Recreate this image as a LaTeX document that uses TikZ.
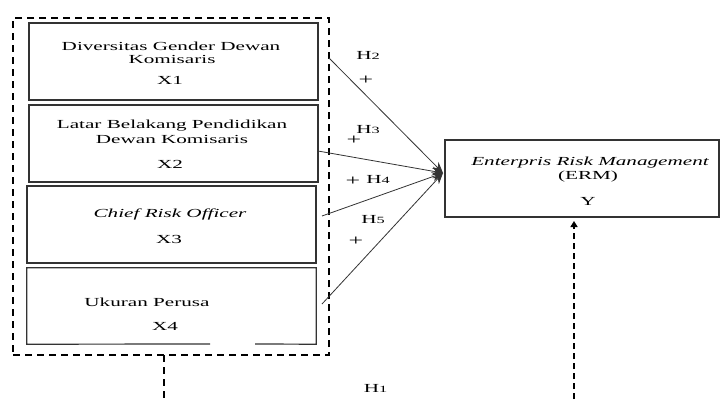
\documentclass[tikz,border=0pt]{standalone}
\usepackage{fontspec}
\setmainfont[FakeStretch=1.72]{Liberation Serif}
\usetikzlibrary{arrows.meta}
\newcommand\hypsub[1]{{\fontsize{9.5}{9.5}\selectfont #1}}
\begin{document}
\begin{tikzpicture}[x=1pt,y=-1pt,
  txt/.style={font=\fontsize{12.3}{14}\selectfont, inner sep=0pt, anchor=base},
  plus/.style={font=\fontsize{15}{16}\selectfont, inner sep=0pt, anchor=center},
  varbox/.style={draw=black!80, line width=1.2pt, inner sep=0pt},
  grpbox/.style={draw=black, line width=2.6pt, dash pattern=on 7pt off 5pt, inner sep=0pt},
  conn/.style={draw=black!80, line width=0.8pt, -{Stealth[length=11pt,width=9pt]}},
  thickdash/.style={draw=black, line width=2.5pt, dash pattern=on 7pt off 5pt},
  uparrow/.style={draw=black, line width=2.5pt, dash pattern=on 6pt off 4pt, -{Triangle[length=6pt,width=7pt]}}]
\useasboundingbox (0,0) rectangle (722,399);
\fill[white] (0,0) rectangle (722,399);

% group box
\node[grpbox, minimum width=316pt, minimum height=337pt] (grp) at (171,186.5) {};

% variable boxes
\node[varbox, minimum width=289pt, minimum height=77pt] (b1) at (173.5,61.5) {};
\node[varbox, minimum width=289pt, minimum height=77pt] (b2) at (173.5,143.5) {};
\node[varbox, minimum width=289pt, minimum height=77pt] (b3) at (171.5,224.5) {};
\node[inner sep=0pt, minimum width=289pt, minimum height=76pt] (b4) at (171.5,306) {};
\draw[draw=black!80, line width=1.2pt] (210,344) -- (b4.south west) -- (b4.north west) -- (b4.north east) -- (b4.south east) -- (255,344);

% texts in boxes
\node[txt] (t1a) at (171,50) {Diversitas Gender Dewan};
\node[txt] (t1b) at (172,63) {Komisaris};
\node[txt] (t1c) at (170,84) {X1};
\node[txt] (t2a) at (172,128) {Latar Belakang Pendidikan};
\node[txt] (t2b) at (172,143) {Dewan Komisaris};
\node[txt] (t2c) at (170,168) {X2};
\node[txt] (t3a) at (170,217) {\itshape Chief Risk Officer};
\node[txt] (t3b) at (169,243) {X3};
\node[txt] (t4a) at (147,306) {Ukuran Perusa};
\node[txt] (t4b) at (165,330) {X4};

% ERM box
\node[varbox, minimum width=274pt, minimum height=77pt] (erm) at (582,178.5) {};
\node[txt] (ea) at (590,165) {\itshape Enterpris Risk Management};
\node[txt] (eb) at (588,179) {(ERM)};
\node[txt] (ec) at (588,205) {Y};

% connectors
\coordinate (s1) at (329,58);
\coordinate (s2) at (318,151);
\coordinate (s3) at (322,216);
\coordinate (s4) at (322,304);
\coordinate (tip) at (443,173);
\draw[conn] (s1) -- (tip);
\draw[conn] (s2) -- (tip);
\draw[conn] (s3) -- (tip);
\draw[conn] (s4) -- (tip);

% labels
\node[txt] (h2) at (368,59) {H\hypsub{2}};
\node[plus] (p2) at (366,80) {+};
\node[txt] (h3) at (368,133) {H\hypsub{3}};
\node[plus] (p3) at (354,140) {+};
\node[plus] (p4) at (353,181) {+};
\node[txt] (h4) at (378,183) {H\hypsub{4}};
\node[txt] (h5) at (373,223) {H\hypsub{5}};
\node[plus] (p5) at (356,241) {+};
\node[txt] (h1) at (375.5,392) {H\hypsub{1}};

% H1 dashed lines
\coordinate (d1) at (164,355);
\coordinate (d1e) at (164,399);
\draw[thickdash] (d1) -- (d1e);
\coordinate (u0) at (574,399);
\coordinate (u1) at (574,221);
\draw[uparrow] (u0) -- (u1);
\end{tikzpicture}
\end{document}
